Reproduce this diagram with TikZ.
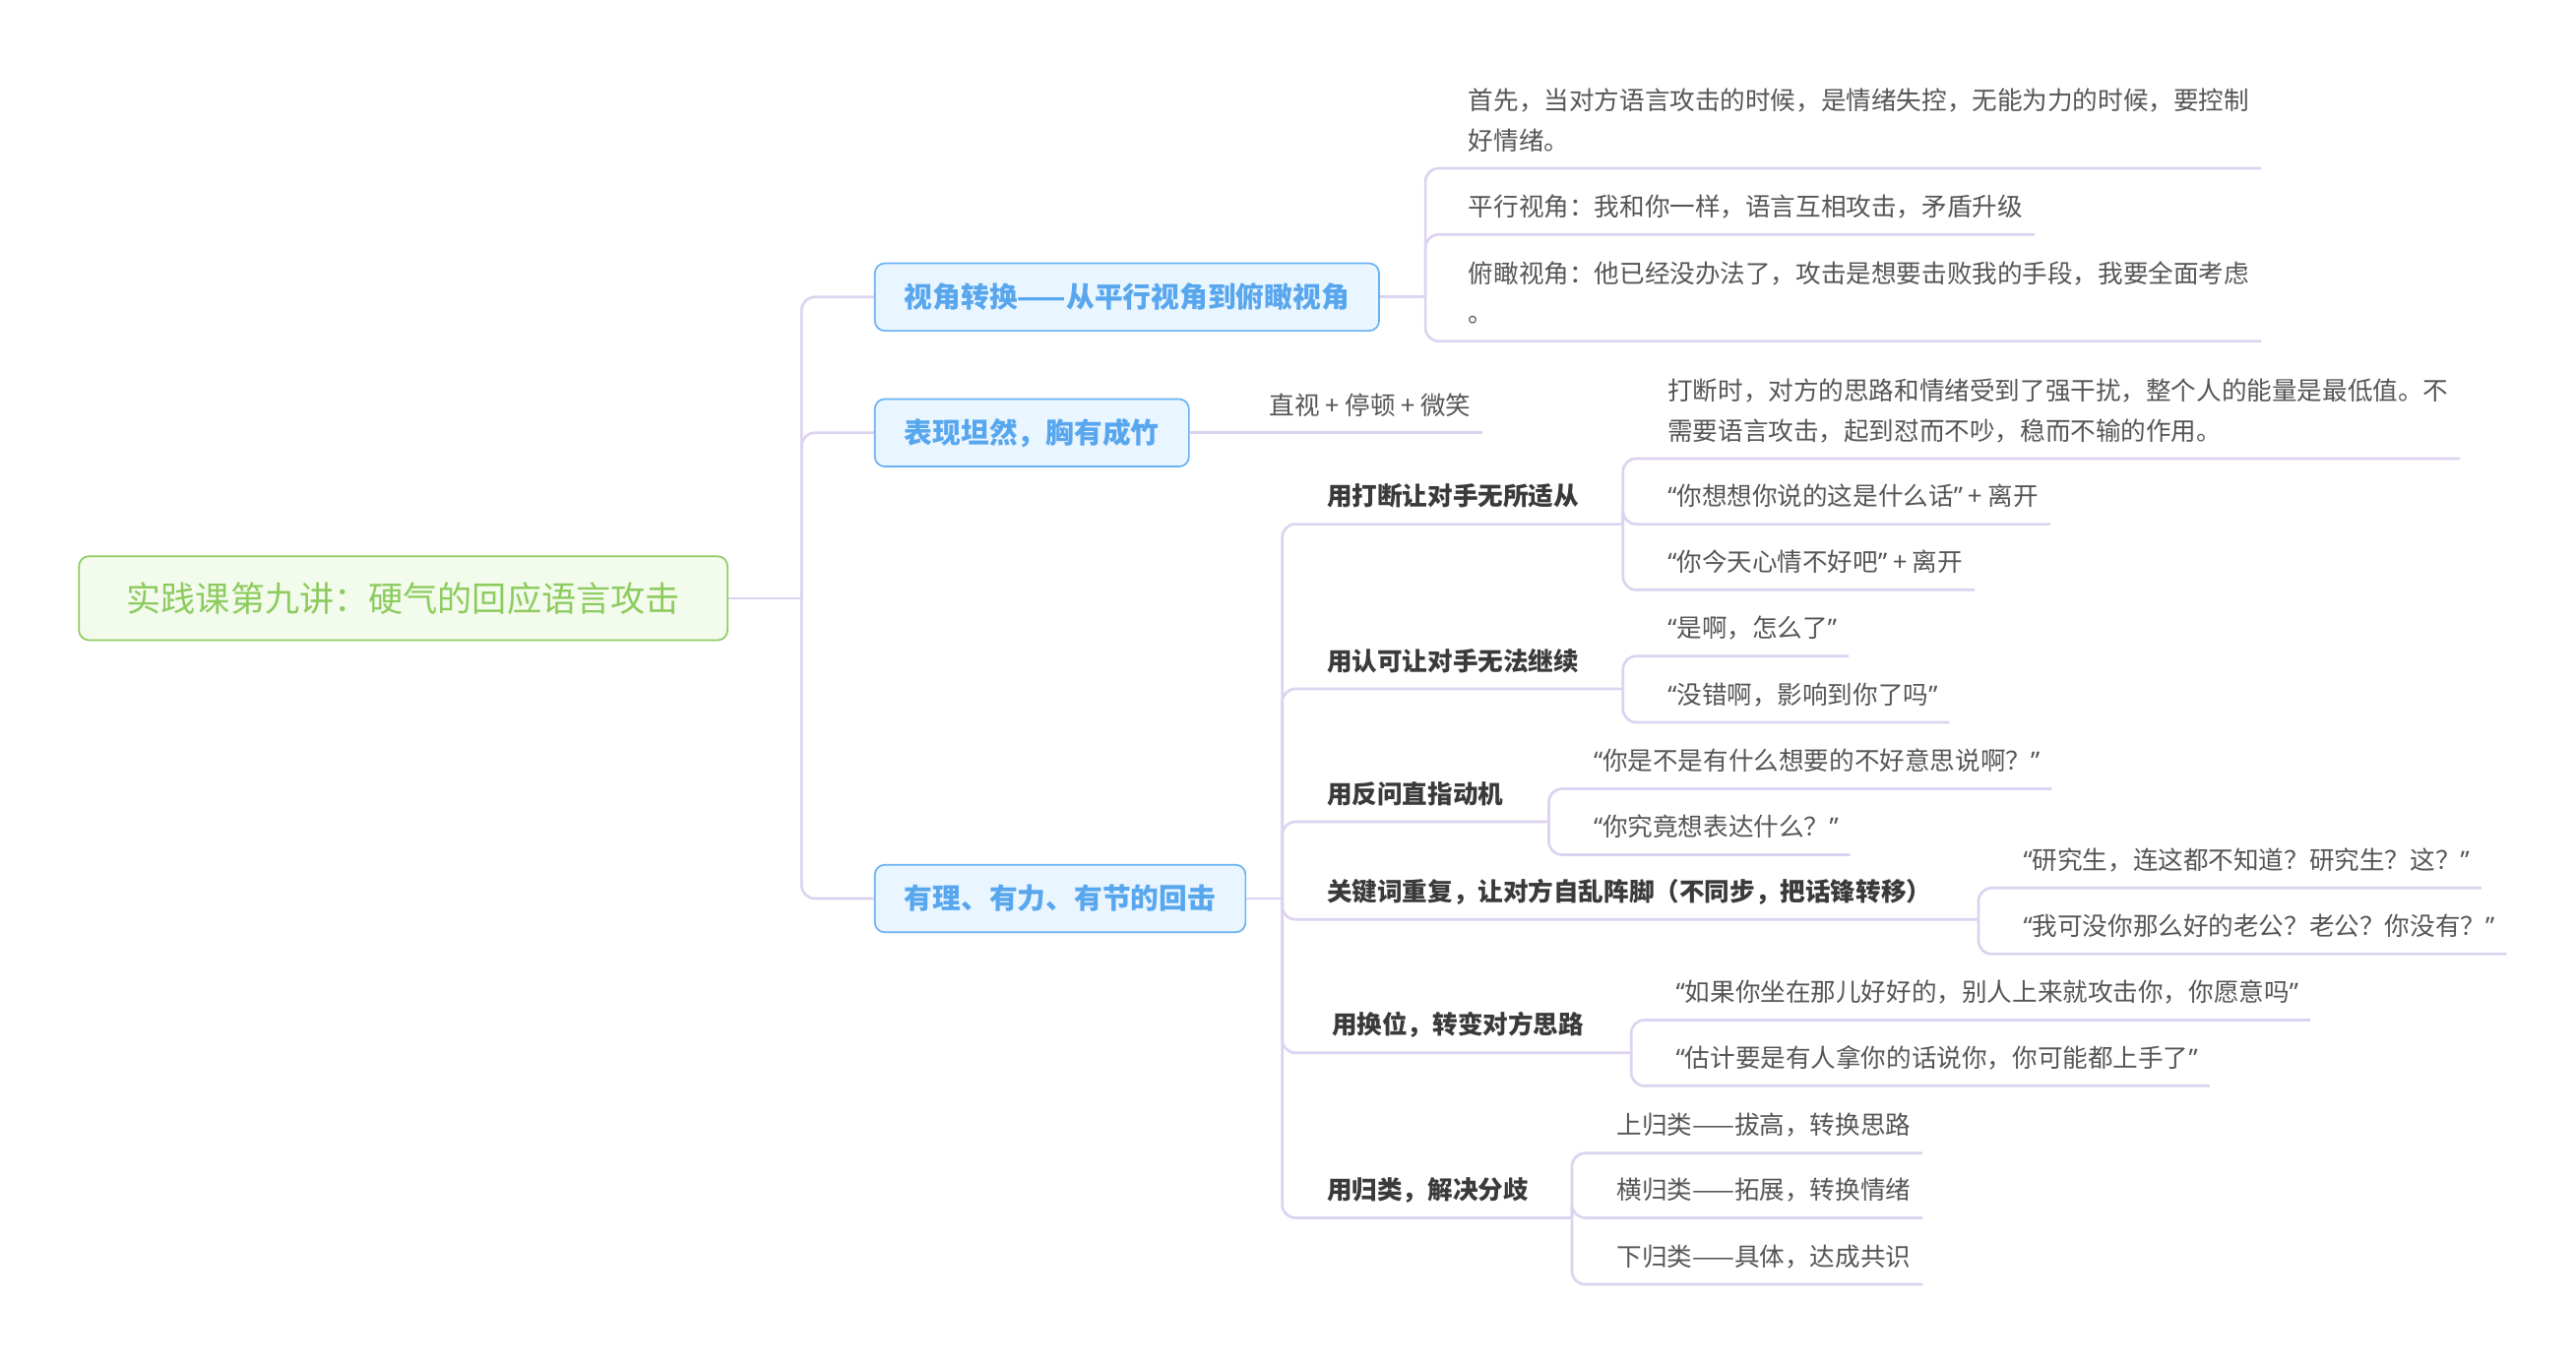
\documentclass[tikz,border=0pt]{standalone}
\usepackage{fontspec}
\newfontfamily\cjk{Noto Sans CJK SC}
\newfontfamily\quotefont{Noto Sans}
\newcommand\qt[1]{{\quotefont “}#1{\quotefont ”}}
\definecolor{linkc}{HTML}{DCD3F0}
\definecolor{rootc}{HTML}{8CCB5E}
\definecolor{rootf}{HTML}{F3FBEC}
\definecolor{topc}{HTML}{69B2F2}
\definecolor{topf}{HTML}{E9F5FF}
\definecolor{topt}{HTML}{58A7EE}
\definecolor{leaft}{HTML}{555555}
\definecolor{subt}{HTML}{3A3A3A}

\begin{document}
\begin{tikzpicture}[x=1pt,y=-1pt,
  link/.style={linkc,line width=1.6pt,rounded corners=8pt},
  root/.style={draw=rootc,fill=rootf,line width=1pt,rounded corners=6pt,minimum width=394pt,minimum height=51pt,text=rootc,font=\cjk\fontsize{21}{25}\selectfont},
  topic/.style={anchor=west,draw=topc,fill=topf,line width=1pt,rounded corners=6pt,minimum height=41pt,inner xsep=18pt,text=topt,font=\cjk\bfseries\fontsize{17.2}{20}\selectfont},
  leaf/.style={anchor=south west,inner xsep=7pt,inner ysep=11pt,text depth=0pt,align=left,text=leaft,font=\cjk\fontsize{15.3}{24.4}\selectfont},
  sub/.style={leaf,text=subt,font=\cjk\bfseries\fontsize{15.3}{24.4}\selectfont}]
\useasboundingbox (0,0) rectangle (1565,829);

\node[root] (root) at (245,363.5) {实践课第九讲：硬气的回应语言攻击};
\coordinate (r0) at (487,363.5);
\draw[link] (root.east) -- (r0);

\node[topic] (t1) at (531,180.5) {视角转换——从平行视角到俯瞰视角};
\node[topic] (t2) at (531,263) {表现坦然，胸有成竹};
\node[topic] (t3) at (531,546) {有理、有力、有节的回击};
\foreach \t in {t1,t2,t3} \draw[link] (r0) |- (\t.west);

% first topic
\coordinate (j1) at (866,180.5);
\draw[link] (t1.east) -- (j1);
\node[leaf] (l11) at (885,102.3) {首先，当对方语言攻击的时候，是情绪失控，无能为力的时候，要控制\\好情绪。};
\node[leaf] (l12) at (885,142.5) {平行视角：我和你一样，语言互相攻击，矛盾升级};
\node[leaf] (l13) at (885,207.3) {俯瞰视角：他已经没办法了，攻击是想要击败我的手段，我要全面考虑\\。};
\foreach \l in {l11,l12,l13} \draw[link] (j1) |- (\l.south east);

% second topic
\node[leaf] (l21) at (764,263) {直视 + 停顿 + 微笑};
\draw[link] (t2.east) -- (l21.south east);

% third topic
\coordinate (j3) at (779,546);
\draw[link] (t3.east) -- (j3);
\node[sub] (s1) at (799,318.5) {用打断让对手无所适从};
\node[sub] (s2) at (799,418.6) {用认可让对手无法继续};
\node[sub] (s3) at (799,499.3) {用反问直指动机};
\node[sub] (s4) at (799,558.7) {关键词重复，让对方自乱阵脚（不同步，把话锋转移）};
\node[sub] (s5) at (802,639.7) {用换位，转变对方思路};
\node[sub] (s6) at (799,740) {用归类，解决分歧};
\coordinate (k1) at (986,318.5);
\coordinate (k2) at (986,418.6);
\coordinate (k3) at (941,499.3);
\coordinate (k4) at (1202,558.7);
\coordinate (k5) at (991,639.7);
\coordinate (k6) at (955,740);
\foreach \s in {1,...,6} \draw[link] (j3) |- (s\s.south west) -- (s\s.south east) -- (k\s);

\node[leaf] (g11) at (1006,278.7) {打断时，对方的思路和情绪受到了强干扰，整个人的能量是最低值。不\\需要语言攻击，起到怼而不吵，稳而不输的作用。};
\node[leaf] (g12) at (1006,318.5) {\qt{你想想你说的这是什么话} + 离开};
\node[leaf] (g13) at (1006,358.4) {\qt{你今天心情不好吧} + 离开};
\node[leaf] (g21) at (1006,398.7) {\qt{是啊，怎么了}};
\node[leaf] (g22) at (1006,438.9) {\qt{没错啊，影响到你了吗}};
\node[leaf] (g31) at (961,479.3) {\qt{你是不是有什么想要的不好意思说啊？}};
\node[leaf] (g32) at (961,519.4) {\qt{你究竟想表达什么？}};
\node[leaf] (g41) at (1222,539.6) {\qt{研究生，连这都不知道？研究生？这？}};
\node[leaf] (g42) at (1222,579.7) {\qt{我可没你那么好的老公？老公？你没有？}};
\node[leaf] (g51) at (1011,619.8) {\qt{如果你坐在那儿好好的，别人上来就攻击你，你愿意吗}};
\node[leaf] (g52) at (1011,659.8) {\qt{估计要是有人拿你的话说你，你可能都上手了}};
\node[leaf] (g61) at (975,700.7) {上归类——拔高，转换思路};
\node[leaf] (g62) at (975,740) {横归类——拓展，转换情绪};
\node[leaf] (g63) at (975,780.4) {下归类——具体，达成共识};
\foreach \a/\b in {k1/g11,k1/g12,k1/g13,k2/g21,k2/g22,k3/g31,k3/g32,k4/g41,k4/g42,k5/g51,k5/g52,k6/g61,k6/g62,k6/g63}
  \draw[link] (\a) |- (\b.south east);
\end{tikzpicture}
\end{document}
